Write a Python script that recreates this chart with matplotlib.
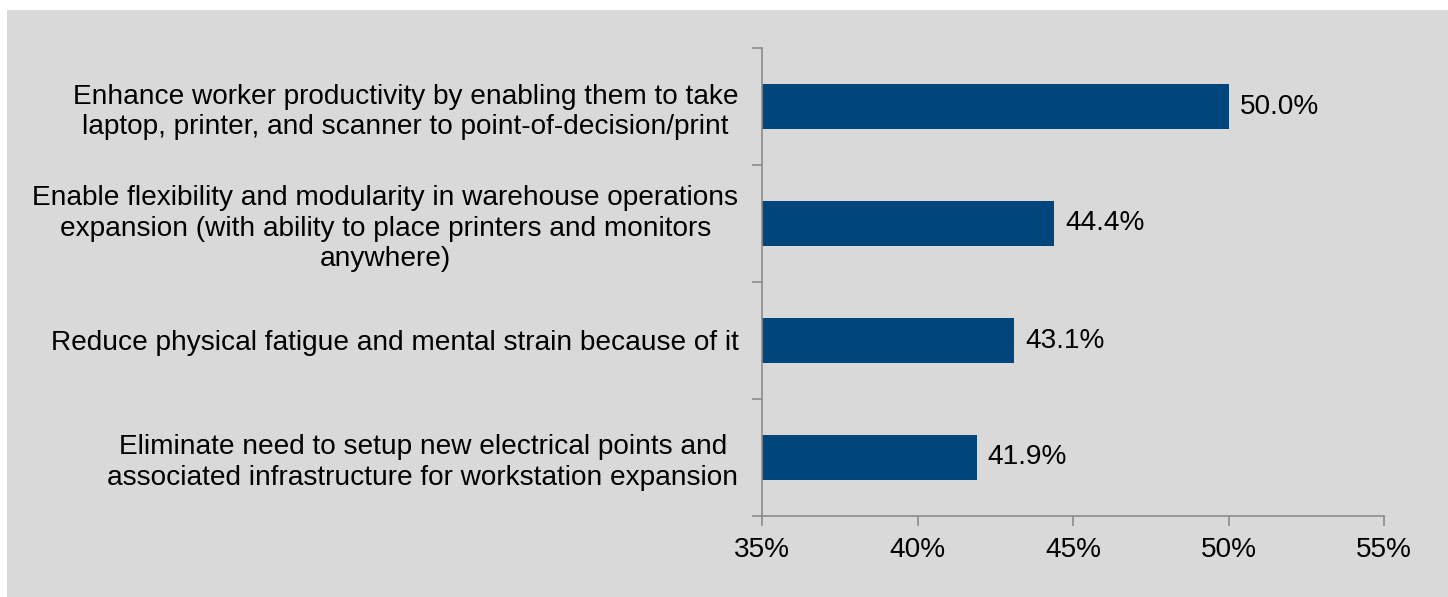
import matplotlib

matplotlib.use("Agg")
import matplotlib.pyplot as plt
from matplotlib.patches import Rectangle
from matplotlib.ticker import FuncFormatter

plt.rcParams["font.family"] = ["Liberation Sans", "DejaVu Sans"]

BG = "#d9d9d9"
BAR_COLOR = "#00457c"
SPINE_COLOR = "#8c8c8c"
FS = 20.15

categories = [
    "Enhance worker productivity by enabling them to take\n"
    "laptop, printer, and scanner to point-of-decision/print",
    "Enable flexibility and modularity in warehouse operations\n"
    "expansion (with ability to place printers and monitors\n"
    "anywhere)",
    "Reduce physical fatigue and mental strain because of it",
    "Eliminate need to setup new electrical points and\n"
    "associated infrastructure for workstation expansion",
]
values = [50.0, 44.4, 43.1, 41.9]
x_ticks = [35, 40, 45, 50, 55]

fig = plt.figure(figsize=(14.48, 5.97), dpi=100, facecolor="white")
# gray panel behind the chart
fig.patches.append(
    Rectangle((7 / 1448, 0), 1 - 7 / 1448, 1 - 10 / 597,
              transform=fig.transFigure, facecolor=BG, edgecolor="none", zorder=-10)
)

ax = fig.add_axes([762 / 1448, 1 - 516 / 597, (1384 - 762) / 1448, (516 - 48) / 597])
ax.set_facecolor(BG)

y = list(range(len(categories)))
ax.barh(y, values, height=0.385, color=BAR_COLOR)
ax.set_xlim(35, 55)
ax.set_ylim(len(categories) - 0.5, -0.5)

for yi, v in zip(y, values):
    ax.annotate(f"{v:.1f}%", (v, yi), xytext=(8, 0), textcoords="offset points",
                va="center", ha="left", fontsize=FS)

ax.set_xticks(x_ticks)
ax.xaxis.set_major_formatter(FuncFormatter(lambda v, _: f"{v:.0f}%"))
ax.tick_params(axis="x", length=7, width=1.2, color=SPINE_COLOR, pad=8, labelsize=FS)

ax.set_yticks(y)
ax.set_yticklabels(categories, fontsize=FS, linespacing=1.21)
for t in ax.get_yticklabels():
    t.set_multialignment("center")
ax.set_yticks([i - 0.5 for i in range(len(categories) + 1)], minor=True)
ax.tick_params(axis="y", which="major", length=0, pad=17)
ax.tick_params(axis="y", which="minor", length=7, width=1.2, color=SPINE_COLOR)

for side in ("top", "right"):
    ax.spines[side].set_visible(False)
for side in ("left", "bottom"):
    ax.spines[side].set_color(SPINE_COLOR)
    ax.spines[side].set_linewidth(1.2)

fig.savefig("out.png", dpi=100, facecolor=fig.get_facecolor())
